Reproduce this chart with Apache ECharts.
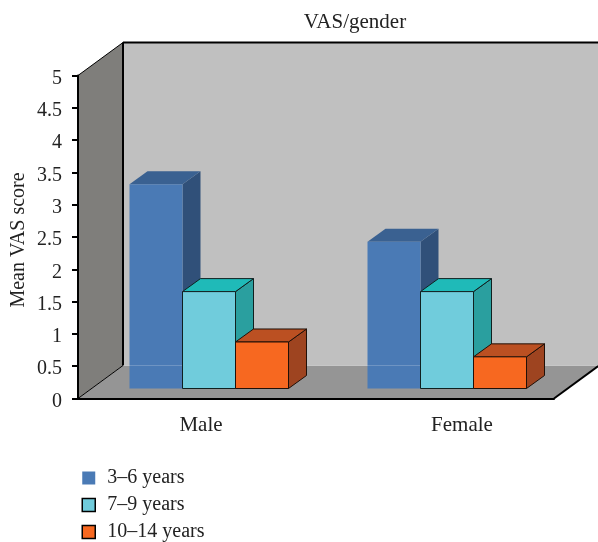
<!DOCTYPE html>
<html>
<head>
<meta charset="utf-8">
<style>
  html, body { margin: 0; padding: 0; background: #fff; }
  #chart { width: 598px; height: 542px; }
</style>
<script src="https://cdn.jsdelivr.net/npm/echarts@6/dist/echarts.min.js"></script>
</head>
<body>
<div id="chart"></div>
<script>
const categories = ['Male', 'Female']
const yTicks = [0, 5]
const young = [3.16, 2.27]
const middle = [1.5, 1.5]
const older = [0.72, 0.49]
const seriesNames = ['3–6 years', '7–9 years', '10–14 years']

const FONT = '"Liberation Serif", serif'
const TXT = '#222'
// 墙面进深
const WALL_DX = 45
const WALL_DY = 33
// 柱子尺寸
const BAR_W = 53
const BAR_DX = 18
const BAR_DY = 13
const BAR_LIFT = 10   // 柱子离开前沿的高度
const GROUP_SHIFT = -67.5

function poly (points, fill, stroke, lineWidth) {
  return {
    type: 'polygon',
    shape: { points: points },
    style: { fill: fill, stroke: stroke || null, lineWidth: lineWidth || 0 }
  }
}

function line (x1, y1, x2, y2, stroke, lineWidth) {
  return {
    type: 'line',
    shape: { x1: x1, y1: y1, x2: x2, y2: y2 },
    style: { stroke: stroke, lineWidth: lineWidth }
  }
}

function renderWalls (params) {
  let c = params.coordSys
  let l = c.x, t = c.y, r = c.x + c.width, b = c.y + c.height
  let dx = WALL_DX, dy = WALL_DY
  return {
    type: 'group',
    children: [
      poly([[l + dx, t - dy], [r + dx, t - dy], [r + dx, b - dy], [l + dx, b - dy]], '#c0c0c0'),
      poly([[l, t], [l + dx, t - dy], [l + dx, b - dy], [l, b]], '#7f7e7b'),
      poly([[l, b], [l + dx, b - dy], [r + dx, b - dy], [r, b]], '#959595'),
      line(l + dx, t - dy, r + dx, t - dy, '#000', 2),
      line(l + dx, t - dy, l + dx, b - dy, '#000', 2),
      line(l, t, l + dx, t - dy, '#000', 1),
      line(l, b, l + dx, b - dy, '#000', 1),
      line(r, b, r + dx, b - dy, '#000', 2)
    ]
  }
}

function renderSeam (params) {
  let c = params.coordSys
  let b = c.y + c.height - WALL_DY
  return line(c.x + WALL_DX, b, c.x + c.width + WALL_DX, b, 'rgba(255,255,255,0.2)', 1)
}

function barRenderer (slot, colors) {
  return function (params, api) {
    let cat = api.value(0)
    let zero = api.coord([cat, 0])
    let top = api.coord([cat, api.value(1)])
    let x0 = zero[0] + GROUP_SHIFT + slot * BAR_W
    let x1 = x0 + BAR_W
    let y0 = zero[1] - BAR_LIFT
    let y1 = top[1] - BAR_LIFT
    let dx = BAR_DX, dy = BAR_DY
    return {
      type: 'group',
      children: [
        poly([[x1, y1], [x1 + dx, y1 - dy], [x1 + dx, y0 - dy], [x1, y0]], colors.side, colors.stroke, 1),
        poly([[x0, y1], [x0 + dx, y1 - dy], [x1 + dx, y1 - dy], [x1, y1]], colors.top, colors.stroke, 1),
        poly([[x0, y1], [x1, y1], [x1, y0], [x0, y0]], colors.front, colors.stroke, 1)
      ]
    }
  }
}

const palette = [
  { front: '#4a7ab5', top: '#3a6191', side: '#305079', stroke: null },
  { front: '#70ccdc', top: '#1fbab8', side: '#2a9f9f', stroke: '#10201f' },
  { front: '#f76820', top: '#bb5022', side: '#9e4420', stroke: '#201008' }
]

function barSeries (slot, values) {
  return {
    type: 'custom',
    name: seriesNames[slot],
    coordinateSystem: 'cartesian2d',
    clip: false,
    silent: true,
    z: 3 + slot * 2,
    itemStyle: { color: palette[slot].front },
    renderItem: barRenderer(slot, palette[slot]),
    data: values.map((v, i) => [i, v])
  }
}

let chart = echarts.init(document.getElementById('chart'), null, { renderer: 'canvas' })
chart.setOption({
  animation: false,
  backgroundColor: '#fff',
  textStyle: { fontFamily: FONT },
  title: {
    text: 'VAS/gender',
    left: 350,
    top: 7,
    textAlign: 'center',
    textStyle: { fontFamily: FONT, fontSize: 21, fontWeight: 'normal', color: TXT }
  },
  grid: { left: 78, top: 75.5, width: 476, height: 323, containLabel: false, outerBoundsMode: 'none' },
  legend: {
    orient: 'vertical',
    left: 81.5,
    top: 468,
    padding: 0,
    itemWidth: 13,
    itemHeight: 13,
    itemGap: 7,
    selectedMode: false,
    textStyle: { fontFamily: FONT, fontSize: 20, color: TXT, padding: [0, 0, 0, 7] },
    data: [
      { name: seriesNames[0], icon: 'rect', itemStyle: { color: palette[0].front, borderWidth: 0 } },
      { name: seriesNames[1], icon: 'rect', itemStyle: { color: palette[1].front, borderColor: '#000', borderWidth: 1.5 } },
      { name: seriesNames[2], icon: 'rect', itemStyle: { color: palette[2].front, borderColor: '#000', borderWidth: 1.5 } }
    ]
  },
  xAxis: {
    type: 'category',
    z: 6,
    data: [
      { value: categories[0], textStyle: { padding: [0, 0, 0, 8] } },
      { value: categories[1], textStyle: { padding: [0, 0, 0, 54] } }
    ],
    axisLine: { lineStyle: { color: '#000', width: 2 } },
    axisTick: { length: 5, lineStyle: { color: '#000', width: 2 } },
    axisLabel: { fontFamily: FONT, fontSize: 21, color: TXT, margin: 16 },
    splitLine: { show: false }
  },
  yAxis: {
    type: 'value',
    z: 6,
    min: yTicks[0],
    max: yTicks[1],
    interval: 0.5,
    name: 'Mean VAS score',
    nameLocation: 'middle',
    nameGap: 49,
    nameMoveOverlap: false,
    nameTextStyle: { fontFamily: FONT, fontSize: 20, color: TXT, padding: [0, 6, 0, 0] },
    axisLine: { show: true, lineStyle: { color: '#000', width: 2 } },
    axisTick: { show: true, length: 6, lineStyle: { color: '#000', width: 2 } },
    axisLabel: { fontFamily: FONT, fontSize: 20, color: TXT, margin: 16, verticalAlign: 'top', lineHeight: 6 },
    splitLine: { show: false }
  },
  series: [
    { type: 'custom', coordinateSystem: 'cartesian2d', clip: false, silent: true, z: 1, renderItem: renderWalls, data: [[0, 0]] },
    barSeries(0, young),
    { type: 'custom', coordinateSystem: 'cartesian2d', clip: false, silent: true, z: 4, renderItem: renderSeam, data: [[0, 0]] },
    barSeries(1, middle),
    barSeries(2, older)
  ]
})
</script>
</body>
</html>
